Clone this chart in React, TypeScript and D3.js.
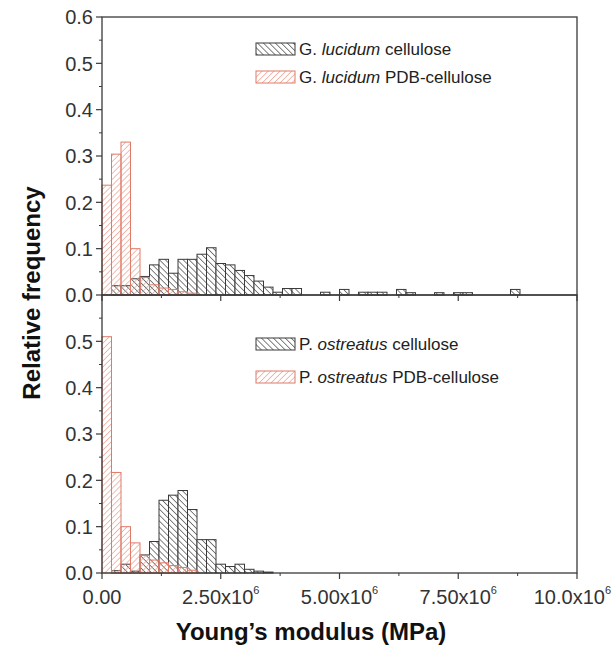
import React from "react";
import * as d3 from "d3";

// ---- data ----
const BIN_WIDTH = 0.2e6; // MPa per histogram bin
const xTickValues = [0, 2.5e6, 5e6, 7.5e6, 10e6];
const xTickMantissa = ["0.00", "2.50x10", "5.00x10", "7.50x10", "10.0x10"];
const xTickExp = ["", "6", "6", "6", "6"];
const yTicksTop = [0, 0.1, 0.2, 0.3, 0.4, 0.5, 0.6];
const yTicksBottom = [0, 0.1, 0.2, 0.3, 0.4, 0.5];

// relative frequency per bin (bin k covers k*0.2e6 .. (k+1)*0.2e6)
const gLucidumCellulose = [
  0, 0.02, 0.02, 0.035, 0.04, 0.065, 0.077, 0.047, 0.077, 0.077,
  0.088, 0.102, 0.068, 0.065, 0.053, 0.042, 0.03, 0.017, 0.006, 0.014,
  0.014, 0, 0, 0.006, 0, 0.012, 0, 0.006, 0.006, 0.006,
  0, 0.012, 0.005, 0, 0, 0.005, 0, 0.005, 0.005, 0,
  0, 0, 0, 0.012, 0, 0, 0, 0, 0, 0,
];
const gLucidumPDB = [0.237, 0.304, 0.33, 0.1, 0.038, 0.022, 0.015, 0.012, 0.007, 0.004];
const pOstreatusCellulose = [
  0, 0.005, 0.019, 0.004, 0.039, 0.068, 0.157, 0.168, 0.178, 0.137,
  0.072, 0.072, 0.019, 0.014, 0.019, 0.008, 0.004, 0.002,
];
const pOstreatusPDB = [0.51, 0.217, 0.1, 0.065, 0.038, 0.028, 0.022, 0.016, 0.012, 0.006];

const legendTop = [
  { pre: "G. ", it: "lucidum", post: " cellulose", kind: "gray" },
  { pre: "G. ", it: "lucidum", post: " PDB-cellulose", kind: "red" },
];
const legendBottom = [
  { pre: "P. ", it: "ostreatus", post: " cellulose", kind: "gray" },
  { pre: "P. ", it: "ostreatus", post: " PDB-cellulose", kind: "red" },
];

// ---- layout ----
const W = 613, H = 666;
const L = 102, R = 577, TOP = 17, MID = 295, BOT = 573;
const FONT = "'Liberation Sans', Arial, Helvetica, sans-serif";
const GRAY = "#3a3a3a";
const GRAY_HATCH = "#5a5a5a";
const RED = "#e07a68";
const RED_HATCH = "#eda090";

const x = d3.scaleLinear().domain([0, 10e6]).range([L, R]);
const yTop = d3.scaleLinear().domain([0, 0.6]).range([MID, TOP]);
const yBot = d3.scaleLinear().domain([0, 0.6]).range([BOT, MID]);

function Bars({ data, y, kind }: { data: number[]; y: any; kind: string }) {
  const stroke = kind === "gray" ? GRAY : RED;
  const fill = kind === "gray" ? "url(#hatchGray)" : "url(#hatchRed)";
  return (
    <g>
      {data.map((v, k) =>
        v > 0 ? (
          <rect
            key={k}
            x={x(k * BIN_WIDTH)}
            y={y(v)}
            width={x((k + 1) * BIN_WIDTH) - x(k * BIN_WIDTH)}
            height={y(0) - y(v)}
            fill={fill}
            stroke={stroke}
            strokeWidth={1}
          />
        ) : null
      )}
    </g>
  );
}

function YAxis({ y, ticks }: { y: any; ticks: number[] }) {
  const minor = d3.range(0, 0.6001, 0.05).filter((v) => Math.abs(Math.round(v * 10) - v * 10) > 0.01);
  return (
    <g>
      {ticks.map((t) => (
        <g key={t}>
          <line x1={L - 6} x2={L} y1={y(t)} y2={y(t)} stroke={GRAY} strokeWidth={1.2} />
          <text x={L - 9} y={y(t)} dy="0.36em" textAnchor="end" fontSize={20} fill="#333" fontFamily={FONT}>
            {d3.format(".1f")(t)}
          </text>
        </g>
      ))}
      {minor.map((t) => (
        <line key={"m" + t} x1={L - 3} x2={L} y1={y(t)} y2={y(t)} stroke={GRAY} strokeWidth={1} />
      ))}
    </g>
  );
}

function XTicks({ yPos }: { yPos: number }) {
  const minor = [1.25e6, 3.75e6, 6.25e6, 8.75e6];
  return (
    <g>
      {xTickValues.map((t) => (
        <line key={t} x1={x(t)} x2={x(t)} y1={yPos} y2={yPos + 6} stroke={GRAY} strokeWidth={1.2} />
      ))}
      {minor.map((t) => (
        <line key={"m" + t} x1={x(t)} x2={x(t)} y1={yPos} y2={yPos + 3} stroke={GRAY} strokeWidth={1} />
      ))}
    </g>
  );
}

function Legend({ items, ys }: { items: any[]; ys: number[] }) {
  return (
    <g>
      {items.map((it, i) => (
        <g key={i}>
          <rect
            x={256}
            y={ys[i] - 6}
            width={39}
            height={12}
            fill={it.kind === "gray" ? "url(#hatchGray)" : "url(#hatchRed)"}
            stroke={it.kind === "gray" ? GRAY : RED}
            strokeWidth={1}
          />
          <text x={299} y={ys[i]} dy="0.36em" fontSize={17} fill="#222" fontFamily={FONT}>
            {it.pre}
            <tspan fontStyle="italic">{it.it}</tspan>
            {it.post}
          </text>
        </g>
      ))}
    </g>
  );
}

export default function App() {
  return (
    <svg width={W} height={H} style={{ position: "absolute", left: 0, top: 0, background: "#fff" }}>
      <defs>
        <pattern id="hatchGray" patternUnits="userSpaceOnUse" width={4.2} height={4.2} patternTransform="rotate(-45)">
          <rect width={4.2} height={4.2} fill="#fff" />
          <line x1={0} y1={0} x2={0} y2={4.2} stroke={GRAY_HATCH} strokeWidth={1.5} />
        </pattern>
        <pattern id="hatchRed" patternUnits="userSpaceOnUse" width={4.2} height={4.2} patternTransform="rotate(45)">
          <line x1={0} y1={0} x2={0} y2={4.2} stroke={RED_HATCH} strokeWidth={1.4} />
        </pattern>
      </defs>
      <rect width={W} height={H} fill="#fff" />

      {/* top panel */}
      <Bars data={gLucidumCellulose} y={yTop} kind="gray" />
      <Bars data={gLucidumPDB} y={yTop} kind="red" />
      {/* bottom panel */}
      <Bars data={pOstreatusCellulose} y={yBot} kind="gray" />
      <Bars data={pOstreatusPDB} y={yBot} kind="red" />

      {/* frames */}
      <rect x={L} y={TOP} width={R - L} height={MID - TOP} fill="none" stroke={GRAY} strokeWidth={1.3} />
      <rect x={L} y={MID} width={R - L} height={BOT - MID} fill="none" stroke={GRAY} strokeWidth={1.3} />

      <YAxis y={yTop} ticks={yTicksTop} />
      <YAxis y={yBot} ticks={yTicksBottom} />
      <XTicks yPos={MID} />
      <XTicks yPos={BOT} />

      {xTickValues.map((t, i) => {
        const last = i === xTickValues.length - 1;
        return (
          <text
            key={t}
            x={last ? W - 2 : x(t)}
            y={604}
            textAnchor={last ? "end" : "middle"}
            fontSize={20}
            fill="#333"
            fontFamily={FONT}
          >
            {xTickMantissa[i]}
            {xTickExp[i] ? (
              <tspan fontSize={11} dy={-10}>
                {xTickExp[i]}
              </tspan>
            ) : null}
          </text>
        );
      })}

      <Legend items={legendTop} ys={[49, 77]} />
      <Legend items={legendBottom} ys={[344, 377]} />

      <text x={311} y={640} textAnchor="middle" fontSize={24} fontWeight="bold" fill="#111" fontFamily={FONT}>
        Young’s modulus (MPa)
      </text>
      <text
        transform={`translate(40, ${293}) rotate(-90)`}
        textAnchor="middle"
        fontSize={24}
        fontWeight="bold"
        fill="#111"
        fontFamily={FONT}
      >
        Relative frequency
      </text>
    </svg>
  );
}
